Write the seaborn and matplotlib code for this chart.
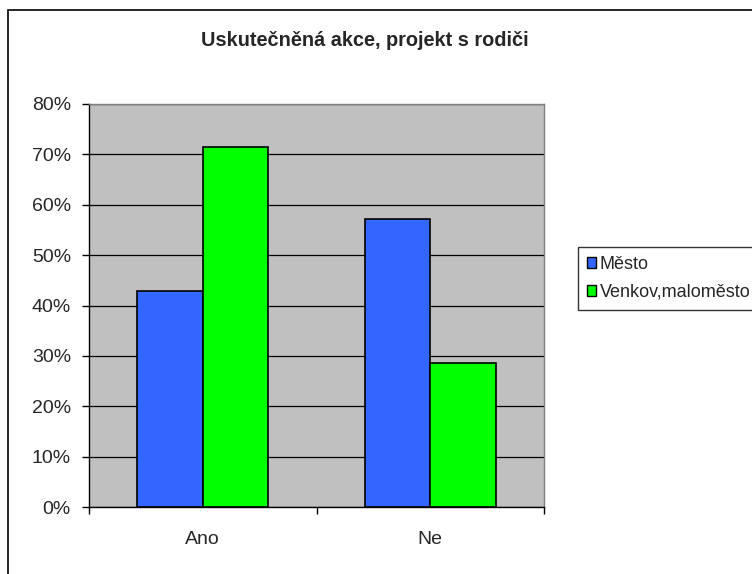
import matplotlib
matplotlib.use("Agg")
import matplotlib.pyplot as plt
import matplotlib.patches as mpatches
import seaborn as sns
import pandas as pd

categories = ["Ano", "Ne"]
series_names = ["Město", "Venkov,maloměsto"]
mesto = [0.429, 0.571]
venkov = [0.714, 0.286]
colors = ["#3366FF", "#00FF00"]
title = "Uskutečněná akce, projekt s rodiči"
yticks = [0, 0.1, 0.2, 0.3, 0.4, 0.5, 0.6, 0.7, 0.8]

df = pd.DataFrame({
    "cat": categories * 2,
    "series": [series_names[0]] * 2 + [series_names[1]] * 2,
    "value": mesto + venkov,
})

sns.set_style("white")
plt.rcParams["font.family"] = ["Liberation Sans", "DejaVu Sans"]

fig = plt.figure(figsize=(7.52, 5.74), dpi=100)
ax = fig.add_axes([89/752, 1-507/574, (544-89)/752, (507-104)/574])
sns.barplot(data=df, x="cat", y="value", hue="series", palette=colors,
            width=0.576, edgecolor="black", linewidth=1.2, ax=ax, legend=False,
            saturation=1)
ax.set_facecolor("#C0C0C0")
ax.set_axisbelow(True)
ax.set_ylim(0, 0.8)
ax.set_xlim(-0.5, 1.5)
ax.set_yticks(yticks)
ax.set_yticklabels([f"{int(round(t*100))}%" for t in yticks], fontsize=14)
ax.yaxis.grid(True, color="black", linewidth=0.9)
ax.set_xticks([-0.5, 0.5, 1.5])
ax.set_xticklabels([])
ax.set_xticks([0, 1], minor=True)
ax.set_xticklabels(categories, minor=True, fontsize=14)
ax.tick_params(axis="x", which="major", length=5, width=1, direction="out", color="black", bottom=True)
ax.tick_params(axis="x", which="minor", length=0, pad=17)
ax.tick_params(axis="y", length=5, width=1, direction="out", color="black", left=True, pad=8)
ax.set_xlabel("")
ax.set_ylabel("")
for s in ["left", "bottom"]:
    ax.spines[s].set_color("black")
    ax.spines[s].set_linewidth(1)
for s in ["top", "right"]:
    ax.spines[s].set_color("#808080")
    ax.spines[s].set_linewidth(1)

fig.text(365/752, 1-40/574, title, ha="center", va="center",
         fontsize=14.3, fontweight="bold")

handles = [mpatches.Rectangle((0, 0), 1, 1, facecolor=c, edgecolor="black", linewidth=1)
           for c in colors]
leg = fig.legend(handles, series_names, loc="upper left",
                 bbox_to_anchor=(578/752, 1-247/574), bbox_transform=fig.transFigure,
                 fontsize=13, frameon=True, fancybox=False, shadow=False,
                 handlelength=0.5, handleheight=0.5, handletextpad=0.2,
                 labelspacing=0.6, borderpad=0.5, borderaxespad=0)
leg.get_frame().set_edgecolor("black")
leg.get_frame().set_linewidth(1)

border = mpatches.Rectangle((8/752, -0.1), 2, 1 - 10/574 + 0.1, transform=fig.transFigure,
                            fill=False, edgecolor="black", linewidth=1.2)
fig.patches.append(border)

fig.savefig("out.png", dpi=100)
